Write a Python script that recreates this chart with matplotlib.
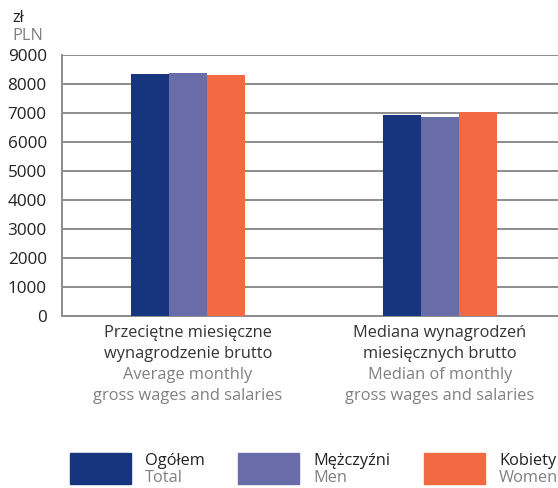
import matplotlib.pyplot as plt
import matplotlib.patches as mpatches
import numpy as np

plt.rcParams['font.family'] = ['Open Sans', 'DejaVu Sans']

# data
groups_pl = ["Przeciętne miesięczne\nwynagrodzenie brutto", "Mediana wynagrodzeń\nmiesięcznych brutto"]
groups_en = ["Average monthly\ngross wages and salaries", "Median of monthly\ngross wages and salaries"]
series_pl = ["Ogółem", "Mężczyźni", "Kobiety"]
series_en = ["Total", "Men", "Women"]
total = [8355, 6945]
men = [8390, 6875]
women = [8320, 7050]
colors = ["#17357f", "#686ca8", "#f26a41"]
yticks = [0, 1000, 2000, 3000, 4000, 5000, 6000, 7000, 8000, 9000]

W, H = 558, 488
fs = 11.8
fig = plt.figure(figsize=(W / 100, H / 100), dpi=100)
ax = fig.add_axes([62 / W, 1 - 316 / H, 504 / W, 261 / H])

x = np.array([0, 1])
bw = 0.15
for i, vals in enumerate([total, men, women]):
    ax.bar(x + (i - 1) * bw, vals, width=bw, color=colors[i], zorder=3)

ax.set_xlim(-0.5, 1.5)
ax.set_ylim(0, 9000)
ax.set_yticks(yticks)
ax.set_yticklabels([str(v) for v in yticks], fontsize=fs + 0.5, color="#222222")
ax.set_xticks([])
ax.grid(axis="y", color="#8c8c8c", linewidth=1.4, zorder=0)
ax.tick_params(axis="y", length=0, pad=11)
for s in ["top", "right"]:
    ax.spines[s].set_visible(False)
for s in ["left", "bottom"]:
    ax.spines[s].set_color("#8c8c8c")
    ax.spines[s].set_linewidth(1.4)

# category labels
for xi, pl, en in zip(x, groups_pl, groups_en):
    px = (62 + 252 * xi + 126) / W
    fig.text(px, 1 - 325 / H, pl, ha="center", va="top", fontsize=fs,
             color="#333333", linespacing=1.4)
    fig.text(px, 1 - 367 / H, en, ha="center", va="top", fontsize=fs,
             color="#808080", linespacing=1.4)

fig.text(12 / W, 1 - 18 / H, "zł", ha="left", va="center", fontsize=fs, color="#222222")
fig.text(12 / W, 1 - 36 / H, "PLN", ha="left", va="center", fontsize=fs, color="#808080")

# legend
leg_x = [70, 238, 424]
for lx, c, pl, en in zip(leg_x, colors, series_pl, series_en):
    fig.patches.append(mpatches.Rectangle((lx / W, 1 - 484 / H), 61 / W, 31 / H,
                                          transform=fig.transFigure, color=c))
    fig.text((lx + 75) / W, 1 - 461 / H, pl, ha="left", va="center", fontsize=fs, color="#222222")
    fig.text((lx + 75) / W, 1 - 478 / H, en, ha="left", va="center", fontsize=fs, color="#808080")

fig.savefig("out.png", dpi=100)
